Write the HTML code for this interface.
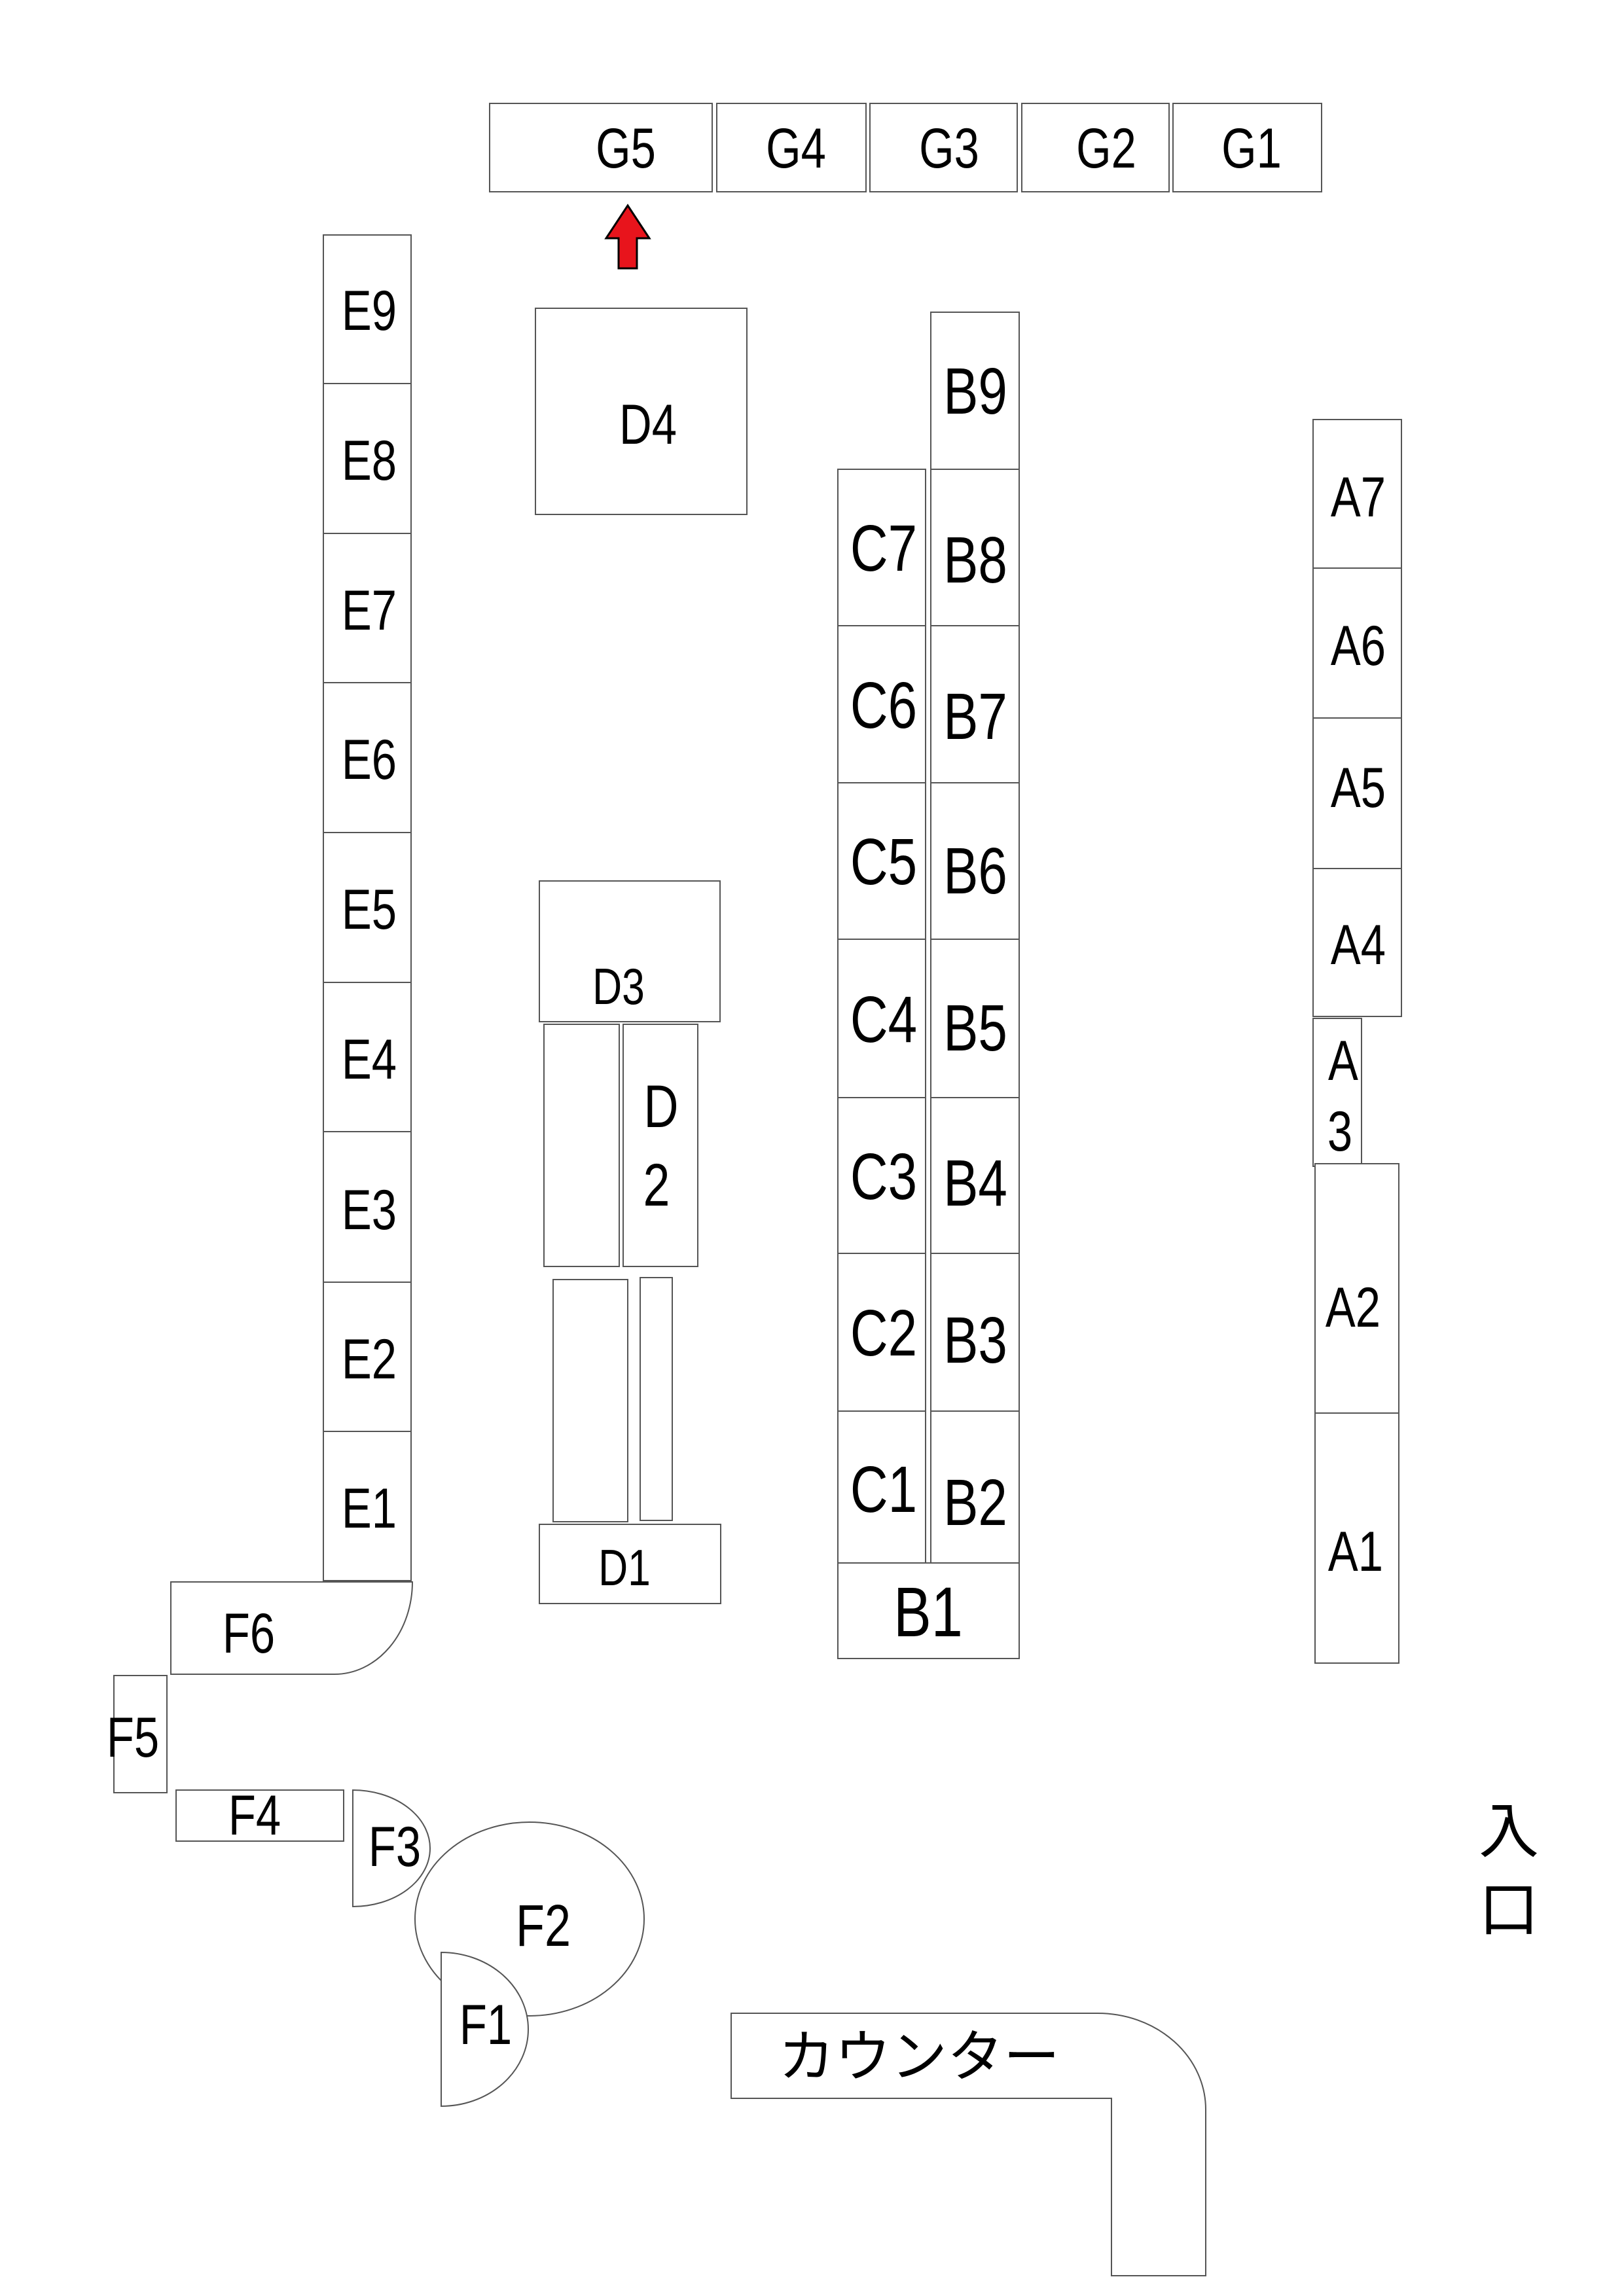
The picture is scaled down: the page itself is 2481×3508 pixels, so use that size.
<!DOCTYPE html>
<html><head><meta charset="utf-8"><style>
html,body{margin:0;padding:0;background:#fff}
svg{display:block}
text{font-family:"Liberation Sans Narrow","Liberation Sans",sans-serif;fill:#000;text-anchor:middle;transform-box:fill-box;transform-origin:center;transform:scaleX(0.8)}
.j{font-family:"Liberation Sans","Noto Sans CJK JP",sans-serif;transform:none}
</style></head><body>
<svg width="2481" height="3508" viewBox="0 0 2481 3508" xmlns="http://www.w3.org/2000/svg">
<g fill="#fff" stroke="#555" stroke-width="2">
<rect x="748" y="158" width="340" height="135"/>
<rect x="1095" y="158" width="228" height="135"/>
<rect x="1329" y="158" width="225" height="135"/>
<rect x="1561" y="158" width="225" height="135"/>
<rect x="1792" y="158" width="227" height="135"/>
<rect x="494" y="359" width="134" height="227"/>
<rect x="494" y="586" width="134" height="229"/>
<rect x="494" y="815" width="134" height="228"/>
<rect x="494" y="1043" width="134" height="229"/>
<rect x="494" y="1272" width="134" height="229"/>
<rect x="494" y="1501" width="134" height="228"/>
<rect x="494" y="1729" width="134" height="230"/>
<rect x="494" y="1959" width="134" height="228"/>
<rect x="494" y="2187" width="134" height="228"/>
<rect x="818" y="471" width="323" height="315"/>
<rect x="824" y="1346" width="276" height="215"/>
<rect x="831" y="1565" width="115" height="370"/>
<rect x="952" y="1565" width="114" height="370"/>
<rect x="845" y="1955" width="114" height="370"/>
<rect x="978" y="1952" width="49" height="371"/>
<rect x="824" y="2329" width="277" height="121"/>
<rect x="1280" y="717" width="134" height="239"/>
<rect x="1280" y="956" width="134" height="240"/>
<rect x="1280" y="1196" width="134" height="239"/>
<rect x="1280" y="1435" width="134" height="242"/>
<rect x="1280" y="1677" width="134" height="238"/>
<rect x="1280" y="1915" width="134" height="241"/>
<rect x="1280" y="2156" width="134" height="232"/>
<rect x="1422" y="477" width="135" height="240"/>
<rect x="1422" y="717" width="135" height="239"/>
<rect x="1422" y="956" width="135" height="240"/>
<rect x="1422" y="1196" width="135" height="239"/>
<rect x="1422" y="1435" width="135" height="242"/>
<rect x="1422" y="1677" width="135" height="238"/>
<rect x="1422" y="1915" width="135" height="241"/>
<rect x="1422" y="2156" width="135" height="232"/>
<rect x="1280" y="2388" width="277" height="146"/>
<rect x="2006" y="641" width="135" height="227"/>
<rect x="2006" y="868" width="135" height="229"/>
<rect x="2006" y="1097" width="135" height="230"/>
<rect x="2006" y="1327" width="135" height="226"/>
<rect x="2006" y="1556" width="74" height="226"/>
<rect x="2009" y="1778" width="128" height="381"/>
<rect x="2009" y="2159" width="128" height="382"/>
<path d="M261,2417 L630,2417 A119 141 0 0 1 511,2558 L261,2558 Z"/>
<rect x="174" y="2560" width="81" height="179"/>
<rect x="269" y="2735" width="256" height="78"/>
<path d="M539,2735 A118 89 0 0 1 539,2913 Z"/>
<ellipse cx="809" cy="2932" rx="175" ry="148"/>
<path d="M674,2983 A133 117.5 0 0 1 674,3218 Z"/>
<path d="M1117,3076 L1677,3076 A165 147 0 0 1 1842,3223 L1842,3477 L1698,3477 L1698,3206 L1117,3206 Z"/>
</g>
<path d="M959,314 L992,364 L973,364 L973,410 L945,410 L945,364 L926,364 Z" fill="#e8141c" stroke="#000" stroke-width="3"/>
<g font-size="86">
<text x="956" y="256">G5</text>
<text x="1216" y="256">G4</text>
<text x="1450" y="256">G3</text>
<text x="1690" y="256">G2</text>
<text x="1912" y="256">G1</text>
<text x="564" y="504">E9</text>
<text x="564" y="733">E8</text>
<text x="564" y="962">E7</text>
<text x="564" y="1190">E6</text>
<text x="564" y="1419">E5</text>
<text x="564" y="1648">E4</text>
<text x="564" y="1878">E3</text>
<text x="564" y="2106">E2</text>
<text x="564" y="2334">E1</text>
<text x="990" y="678">D4</text>
<text x="2075" y="789">A7</text>
<text x="2075" y="1016">A6</text>
<text x="2075" y="1233">A5</text>
<text x="2075" y="1473">A4</text>
<text x="2067" y="2027">A2</text>
<text x="2071" y="2400">A1</text>
<text x="2052" y="1650">A</text>
<text x="2047" y="1758">3</text>
<text x="1010" y="1722" font-size="92">D</text>
<text x="1003" y="1842" font-size="92">2</text>
<text x="380" y="2525">F6</text>
<text x="203" y="2684">F5</text>
<text x="389" y="2803">F4</text>
<text x="603" y="2851">F3</text>
<text x="830" y="2973" font-size="90">F2</text>
<text x="742" y="3123">F1</text>
</g>
<g font-size="78">
<text x="945" y="1534">D3</text>
<text x="954" y="2422">D1</text>
</g>
<g font-size="100">
<text x="1350" y="872">C7</text>
<text x="1350" y="1112">C6</text>
<text x="1350" y="1351">C5</text>
<text x="1350" y="1592">C4</text>
<text x="1350" y="1832">C3</text>
<text x="1350" y="2071">C2</text>
<text x="1350" y="2310">C1</text>
<text x="1490" y="632">B9</text>
<text x="1490" y="890">B8</text>
<text x="1490" y="1129">B7</text>
<text x="1490" y="1365">B6</text>
<text x="1490" y="1605">B5</text>
<text x="1490" y="1842">B4</text>
<text x="1490" y="2082">B3</text>
<text x="1490" y="2330">B2</text>
<text x="1418" y="2500" font-size="108">B1</text>
</g>
<text class="j" x="1404" y="3172" font-size="86">カウンター</text>
<text class="j" x="2305" y="2830" font-size="92">入</text>
<text class="j" x="2305" y="2950" font-size="92">口</text>
</svg>
</body></html>
